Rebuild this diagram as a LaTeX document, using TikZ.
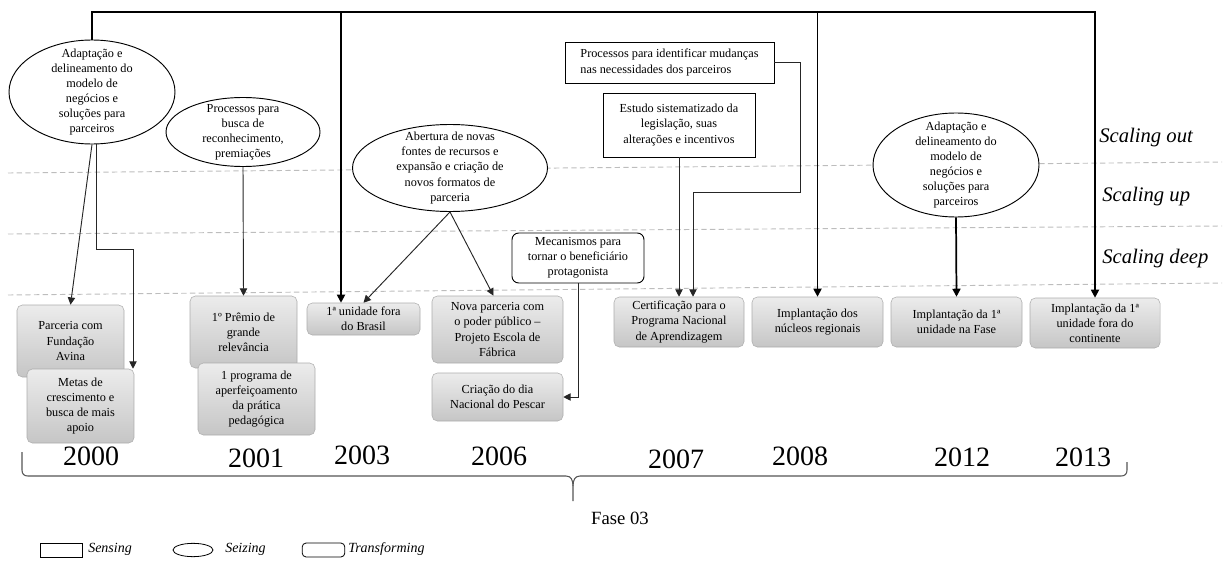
\documentclass[tikz,border=0pt]{standalone}
\usepackage{fontspec}
\setmainfont{Liberation Serif}
\usetikzlibrary{arrows.meta,shapes.geometric,calc}
\definecolor{dashgray}{HTML}{BDBDBD}
\definecolor{bracegray}{HTML}{555555}
\tikzset{
  txt/.style={font=\fontsize{9.2}{11.3}\selectfont, align=center, inner sep=0pt},
  gbox/.style={txt, rounded corners=4pt, draw=gray!65, top color=gray!15, bottom color=gray!45},
  sbox/.style={txt, draw=black, line width=0.7pt, fill=white},
  tbox/.style={txt, draw=black, line width=0.7pt, rounded corners=5pt, fill=white},
  ebox/.style={ellipse, draw=black, line width=0.7pt, fill=white, inner sep=0pt},
  conn/.style={draw=black!85, line width=0.7pt, -{Triangle[width=5.5pt,length=5.5pt]}},
  bus/.style={draw=black, line width=1.3pt},
  busarr/.style={bus, -{Triangle[width=6pt,length=6pt]}},
  level/.style={draw=dashgray, line width=0.7pt, dash pattern=on 4pt off 2.5pt},
  year/.style={font=\fontsize{21}{24}\selectfont, inner sep=0pt},
  scal/.style={font=\fontsize{15.5}{18}\selectfont\itshape, anchor=west, inner sep=0pt},
  legtxt/.style={font=\fontsize{10.5}{12}\selectfont\itshape, anchor=west, inner sep=0pt},
}
\begin{document}
\begin{tikzpicture}[x=0.75pt, y=-0.75pt]
\useasboundingbox (0,0) rectangle (1227,563);

% level lines
\draw[level] (8,173) -- (1222,162);
\draw[level] (8,234) -- (1222,226);
\draw[level] (8,295) -- (1222,283);

\node[scal] (sout) at (1099,138) {Scaling out};
\node[scal] (sup) at (1102,197) {Scaling up};
\node[scal] (sdeep) at (1102,259) {Scaling deep};

% ellipses (seizing)
\node[ebox, minimum width=124.5pt, minimum height=78pt] (e1) at (92,92) {};
\node[txt] (e1t) at (92,92) {Adaptação e\\delineamento do\\modelo de\\negócios e\\soluções para\\parceiros};
\node[ebox, minimum width=115.5pt, minimum height=51.75pt] (e2) at (243,132) {};
\node[txt] (e2t) at (243,132) {Processos para\\busca de\\reconhecimento,\\premiações};
\node[ebox, minimum width=146.25pt, minimum height=65.25pt] (e3) at (450,168) {};
\node[txt] (e3t) at (450,168) {Abertura de novas\\fontes de recursos e\\expansão e criação de\\novos formatos de\\parceria};
\node[ebox, minimum width=124.5pt, minimum height=78pt] (e4) at (956,165) {};
\node[txt] (e4t) at (956,165) {Adaptação e\\delineamento do\\modelo de\\negócios e\\soluções para\\parceiros};

% sensing boxes
\node[sbox, align=left, minimum width=156.75pt, minimum height=30.75pt] (r1) at (669.5,62.5) {Processos para identificar mudanças\\nas necessidades dos parceiros};
\node[sbox, minimum width=114pt, minimum height=48pt] (r2) at (679,125) {Estudo sistematizado da\\legislação, suas\\alterações e incentivos};

% transforming box
\node[tbox, minimum width=99pt, minimum height=37.5pt] (t1) at (578,258) {Mecanismos para\\tornar o beneficiário\\protagonista};

% outcome boxes
\node[gbox, minimum width=80.25pt, minimum height=54pt] (g1) at (70.5,341) {Parceria com\\Fundação\\Avina};
\node[gbox, minimum width=80.25pt, minimum height=55.5pt] (g2) at (80.5,406) {Metas de\\crescimento e\\busca de mais\\apoio};
\node[gbox, minimum width=80.25pt, minimum height=54pt] (g3) at (243.5,332) {1º Prêmio de\\grande\\relevância};
\node[gbox, minimum width=87.75pt, minimum height=54pt] (g4) at (256.5,399) {1 programa de\\aperfeiçoamento\\da prática\\pedagógica};
\node[gbox, minimum width=84.75pt, minimum height=24pt] (g5) at (363.5,319) {1ª unidade fora\\do Brasil};
\node[gbox, minimum width=98.25pt, minimum height=50.25pt] (g6) at (497.5,329.5) {Nova parceria com\\o poder público –\\Projeto Escola de\\Fábrica};
\node[gbox, minimum width=98.25pt, minimum height=36pt] (g7) at (497.5,397) {Criação do dia\\Nacional do Pescar};
\node[gbox, minimum width=97.5pt, minimum height=37.5pt] (g8) at (679,322) {Certificação para o\\Programa Nacional\\de Aprendizagem};
\node[gbox, minimum width=98.25pt, minimum height=37.5pt] (g9) at (817.5,322) {Implantação dos\\núcleos regionais};
\node[gbox, minimum width=98.25pt, minimum height=37.5pt] (g10) at (956.5,322) {Implantação da 1ª\\unidade na Fase};
\node[gbox, minimum width=97.5pt, minimum height=37.5pt] (g11) at (1095,323) {Implantação da 1ª\\unidade fora do\\continente};

% top bus
\coordinate (topy) at (0,12);
\coordinate (b1) at (341,12);
\draw[busarr] (e1.north) |- (g11.north |- topy) -- (g11.north);
\draw[busarr] (b1) -- (b1 |- g5.north);
\draw[busarr] (g9.north |- topy) -- (g9.north);
\draw[busarr] (e4.south) -- (g10.north);

% connectors
\draw[conn] (e1.south) -- (g1.north);
\coordinate (k1) at (133,249);
\draw[conn] ([xshift=3pt]e1.south) |- (k1) -- (k1 |- g2.north);
\draw[conn] (e2.south) -- (g3.north);
\draw[conn] (e3.south) -- (g5.north);
\draw[conn] (e3.south) -- ([xshift=-3pt]g6.north);
\draw[conn] (r2.south) -- (r2.south |- g8.north);
\coordinate (k2) at (800,192);
\coordinate (k3) at (693,192);
\draw[conn] (r1.east) -| (k2) -- (k3) -- (k3 |- g8.north);
\draw[conn] (t1.south) |- (g7.east);

% years
\node[year] (y2000) at (91,456) {2000};
\node[year] (y2001) at (256,458) {2001};
\node[year] (y2003) at (362,455) {2003};
\node[year] (y2006) at (499,456) {2006};
\node[year] (y2007) at (676,459) {2007};
\node[year] (y2008) at (800,456) {2008};
\node[year] (y2012) at (962,457) {2012};
\node[year] (y2013) at (1083,457) {2013};

% brace
\draw[bracegray, line width=0.8pt] (22,452) -- (22,470) .. controls (22,474) and (24,476) .. (28,476) -- (566,476) .. controls (571,476) and (573,480) .. (573,486) -- (573,501);
\draw[bracegray, line width=0.8pt] (1127,462) -- (1127,470) .. controls (1127,474) and (1125,476) .. (1121,476) -- (580,476) .. controls (575,476) and (573,480) .. (573,486);
\node[font=\fontsize{14}{16}\selectfont, inner sep=0pt] (fase) at (620,518) {Fase 03};

% legend
\node[draw=black, line width=0.6pt, minimum width=32pt, minimum height=10.5pt, inner sep=0pt] (lsens) at (61.5,550) {};
\node[legtxt] (lsenst) at (88,549) {Sensing};
\node[ellipse, draw=black, line width=0.6pt, minimum width=30pt, minimum height=10pt, inner sep=0pt] (lseiz) at (193,550) {};
\node[legtxt] (lseizt) at (225,549) {Seizing};
\node[draw=black, line width=0.6pt, rounded corners=3pt, minimum width=32pt, minimum height=10.5pt, inner sep=0pt] (ltrans) at (323.5,550) {};
\node[legtxt] (ltranst) at (348,549) {Transforming};
\end{tikzpicture}
\end{document}
